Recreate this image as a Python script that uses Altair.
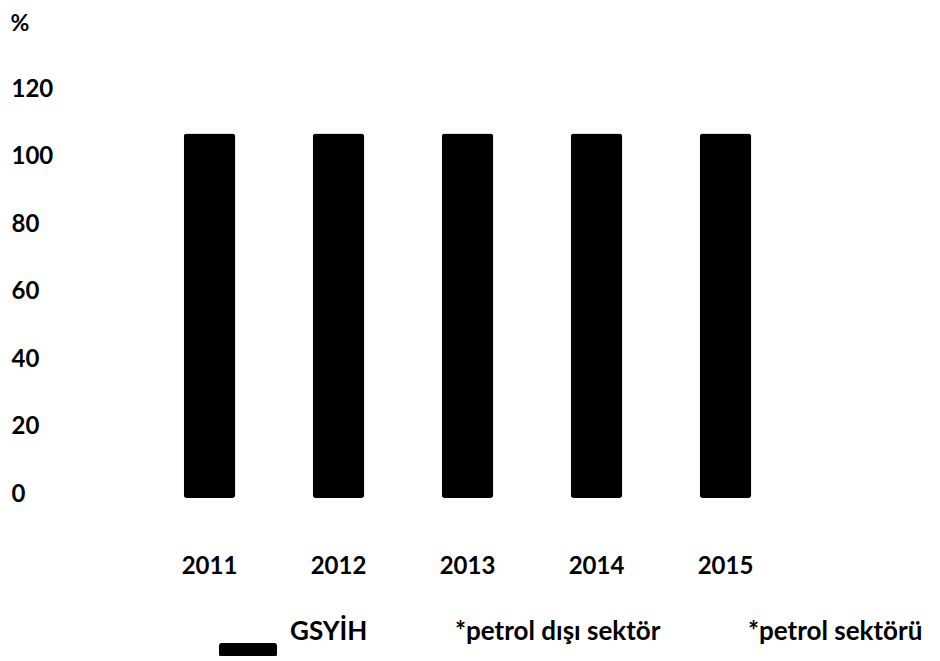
import altair as alt
import pandas as pd

years = ["2011", "2012", "2013", "2014", "2015"]
gsyih = [108, 108, 108, 108, 108]
series_names = ["GSYİH", "*petrol dışı sektör", "*petrol sektörü"]
series_colors = ["#000000", "#ffffff", "#ffffff"]
y_ticks = [0, 20, 40, 60, 80, 100, 120]

df = pd.DataFrame({"year": years, "value": gsyih, "series": [series_names[0]] * len(years)})

FONT = "Lato"

# custom legend symbol: wide rounded rectangle sitting below the label
sym_path = ("M-0.9,0.38 L0.9,0.38 Q1,0.38 1,0.48 L1,0.76 Q1,0.86 0.9,0.86 "
            "L-0.9,0.86 Q-1,0.86 -1,0.76 L-1,0.48 Q-1,0.38 -0.9,0.38 Z")

chart = alt.Chart(df).mark_bar(cornerRadius=3).encode(
    x=alt.X("year:N", sort=years,
            scale=alt.Scale(paddingInner=0.6, paddingOuter=0.3),
            axis=alt.Axis(title=None, labelAngle=0, domain=False, ticks=False, grid=False,
                          labelFont=FONT, labelFontSize=24, labelFontWeight="bold",
                          labelColor="#000000", labelBaseline="middle", labelPadding=68)),
    y=alt.Y("value:Q", scale=alt.Scale(domain=[0, 120], nice=False),
            axis=alt.Axis(title="%", values=y_ticks, domain=False, ticks=False, grid=False,
                          labelFont=FONT, labelFontSize=24, labelFontWeight="bold",
                          labelColor="#000000", labelAlign="left", labelBaseline="middle",
                          labelPadding=134, labelOffset=-4,
                          titleFont=FONT, titleFontSize=23, titleFontWeight="bold",
                          titleColor="#000000", titleAngle=0, titleAlign="left",
                          titleBaseline="middle", titleX=-135, titleY=-70)),
    color=alt.Color("series:N",
                    scale=alt.Scale(domain=series_names, range=series_colors),
                    legend=alt.Legend(title=None, orient="none", direction="horizontal",
                                      legendX=74, legendY=510, padding=0,
                                      symbolType=sym_path, symbolSize=3364,
                                      symbolStrokeWidth=0, symbolOpacity=1,
                                      labelFont=FONT, labelFontSize=26, labelFontWeight="bold",
                                      labelColor="#000000", labelOffset=13,
                                      columnPadding=16, labelLimit=400)),
).properties(
    width=645, height=405,
    autosize=alt.AutoSizeParams(type="none"),
    padding={"left": 137, "top": 85, "right": 142, "bottom": 158},
).configure_view(stroke=None)

chart.save("out.html", embed_options={"renderer": "svg", "actions": False})
